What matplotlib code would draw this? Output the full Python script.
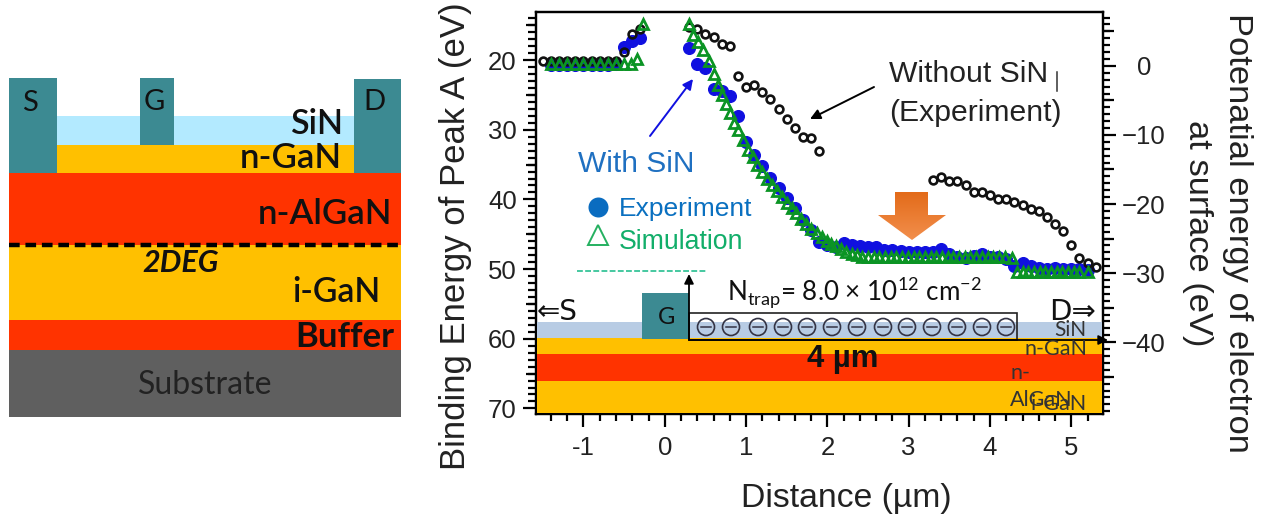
import numpy as np
import matplotlib
matplotlib.use("Agg")
import matplotlib.pyplot as plt
from matplotlib.patches import Rectangle, Polygon, Circle
from matplotlib.ticker import MultipleLocator, FixedLocator

# ---------- data (Distance in um, Binding energy in eV) ----------
black_x = [-1.5,-1.4,-1.3,-1.2,-1.1,-1.0,-0.9,-0.8,-0.7,-0.6,-0.5,-0.4,-0.3,
           0.3,0.4,0.5,0.6,0.7,0.8,0.9,1.0,1.1,1.2,1.3,1.4,1.5,1.6,1.7,1.8,1.9,
           3.3,3.4,3.5,3.6,3.7,3.8,3.9,4.0,4.1,4.2,4.3,4.4,4.5,4.6,4.7,4.8,4.9,5.0,5.1,5.2,5.3]
black_y = [20.1,20.1,20.1,20.1,20.1,20.1,20.1,20.1,20.1,20.1,18.8,16.3,15.6,
           15.3,15.6,16.2,16.7,17.7,18.0,22.3,23.8,23.6,24.6,25.6,27.0,28.5,29.7,31.0,31.2,33.0,
           37.2,36.8,37.4,37.4,38.0,39.0,39.0,39.4,39.9,40.0,40.4,40.8,41.4,41.6,42.5,43.5,44.5,46.5,48.4,49.1,49.7]
blue_x = [-1.4,-1.3,-1.2,-1.1,-1.0,-0.9,-0.8,-0.7,-0.6,-0.5,-0.4,-0.3,
          0.3,0.4,0.5,0.6,0.7,0.8,0.9,1.0,1.1,1.2,1.3,1.4,1.5,1.6,1.7,1.8,1.9,2.0,2.1,2.2,
          2.3,2.4,2.5,2.6,2.7,2.8,2.9,3.0,3.1,3.2,3.3,3.4,3.5,3.6,3.7,3.8,3.9,4.0,4.1,4.2,
          4.3,4.4,4.5,4.6,4.7,4.8,4.9,5.0,5.1,5.2]
blue_y = [20.7,20.7,20.7,20.7,20.7,20.7,20.7,20.7,20.6,18.1,17.2,16.8,
          18.3,20.6,21.2,24.2,24.5,25.2,28.0,31.8,33.6,35.2,36.9,38.3,39.8,41.2,42.9,44.4,46.1,46.5,46.9,46.2,
          46.5,46.7,46.8,46.8,47.2,47.3,47.4,47.5,47.6,47.6,47.6,47.1,47.9,48.2,48.4,48.1,47.9,48.2,48.3,48.5,
          49.6,49.1,49.5,49.8,50.0,49.8,50.0,50.0,50.0,50.1]
green_x = [-1.4,-1.3,-1.2,-1.1,-1.0,-0.9,-0.8,-0.7,-0.6,-0.5,-0.42,-0.34,-0.27,
           0.30,0.35,0.41,0.47,0.55,0.60,0.65,0.70,0.75,0.80,0.85,0.90,0.96,1.02,1.09,1.14,1.20,1.26,1.32,
           1.38,1.44,1.50,1.56,1.62,1.68,1.74,1.80,1.87,1.93,1.99,2.05,2.11,2.17,2.23,2.30,2.36,
           2.43,2.50,2.57,2.64,2.71,2.78,2.85,2.92,2.99,3.06,3.13,3.20,3.27,3.34,3.41,3.48,3.55,3.62,
           3.69,3.76,3.83,3.90,3.97,4.04,4.11,4.18,4.27,
           4.33,4.40,4.47,4.54,4.61,4.68,4.75,4.82,4.89,4.96,5.03,5.10,5.20]
green_y = [20.6,20.6,20.6,20.6,20.6,20.6,20.6,20.6,20.6,20.6,20.5,19.9,14.8,
           14.8,16.4,17.4,18.6,20.2,22.0,23.6,25.0,26.3,27.6,29.0,30.0,31.5,32.9,33.9,35.0,36.0,37.1,37.9,
           38.8,39.7,40.5,41.2,42.0,42.8,43.5,44.3,44.8,45.4,45.9,46.4,46.7,47.1,47.5,47.8,48.0,
           48.2,48.3,48.3,48.3,48.3,48.3,48.3,48.3,48.3,48.3,48.3,48.3,48.3,48.3,48.3,48.3,48.3,48.3,
           48.3,48.3,48.3,48.3,48.3,48.3,48.3,48.3,48.4,
           50.4,50.4,50.4,50.4,50.4,50.4,50.4,50.4,50.4,50.4,50.4,50.4,50.4]
left_major = [20,30,40,50,60,70]
right_major = [0,-10,-20,-30,-40]
x_major = [-1,0,1,2,3,4,5]
x_labels = ['-1','0','1','2','3','4','5']

W, H = 1275, 525
plt.rcParams['font.family'] = ['Liberation Sans', 'DejaVu Sans']
fig = plt.figure(figsize=(W/100, H/100), dpi=100)

# axes box in pixels
L, R, T, B = 535.5, 1103, 12, 414
ax = fig.add_axes([L/W, 1-B/H, (R-L)/W, (B-T)/H])
ax.set_xlim(-1.59, 5.39)
ax.set_ylim(70.8, 13.1)
for s in ax.spines.values():
    s.set_linewidth(1.6)
ax.xaxis.set_major_locator(FixedLocator(x_major))
ax.set_xticklabels(x_labels)
ax.xaxis.set_minor_locator(MultipleLocator(0.2))
ax.yaxis.set_major_locator(FixedLocator(left_major))
ax.yaxis.set_minor_locator(MultipleLocator(1))
ax.tick_params(axis='both', which='major', length=9.5, width=1.6, labelsize=18.5, direction='out', labelcolor='#222222')
ax.tick_params(axis='x', which='major', pad=6)
ax.tick_params(axis='y', which='major', pad=4)
ax.tick_params(axis='x', which='minor', length=4.7, width=1.6)
ax.tick_params(axis='y', which='minor', length=5.5, width=1.6)

ax.plot(blue_x, blue_y, 'o', ms=8.4, color='#1010E0', mec='#1010E0', zorder=3, clip_on=False)
ax.plot(black_x, black_y, 'o', ms=5.6, mfc='none', mec='#111111', mew=1.9, zorder=4, clip_on=False)
ax.plot(green_x, green_y, '^', ms=7.2, mfc='none', mec='#0B9424', mew=2.0, zorder=5, clip_on=False)

# medium 5 eV ticks on left
for v in range(15, 70, 10):
    ax.plot([-10/(R-L), 0], [v, v], transform=ax.get_yaxis_transform(), color='k', lw=1.6, clip_on=False, solid_capstyle='butt')

ax2 = ax.twinx()
ax2.set_ylim(-50.4, 7.8)
ax2.yaxis.set_major_locator(FixedLocator(right_major))
ax2.yaxis.set_minor_locator(MultipleLocator(1))
ax2.tick_params(axis='y', which='major', length=9.5, width=1.6, labelsize=18.5, pad=20, labelcolor='#222222')
ax2.tick_params(axis='y', which='minor', length=4.8, width=1.6)
for lab in ax2.get_yticklabels():
    lab.set_ha('center')
for s in ax2.spines.values():
    s.set_linewidth(1.6)
for v in range(5, -50, -10):
    ax2.plot([1, 1+10.7/(R-L)], [v, v], transform=ax2.get_yaxis_transform(), color='k', lw=1.6, clip_on=False, solid_capstyle='butt')

# overlay in pixel coordinates
ov = fig.add_axes([0, 0, 1, 1], facecolor='none')
ov.set_xlim(0, W); ov.set_ylim(H, 0); ov.axis('off')

def rect(x0, y0, x1, y1, c, **k):
    ov.add_patch(Rectangle((x0, y0), x1-x0, y1-y0, fc=c, ec=k.pop('ec', 'none'), **k))
def txt(x, y, s, size, color='#111111', ha='left', va='center', **k):
    ov.text(x, y, s, fontsize=size, color=color, ha=ha, va=va, **k)

TEAL, AMBER, RED = '#3C8A92', '#FFC000', '#FF3300'
# left schematic
rect(9, 350, 401, 417, '#5F5F5F')
rect(9, 320, 401, 350, RED)
rect(9, 245, 401, 320, AMBER)
rect(9, 173, 401, 245, RED)
rect(57, 145, 354, 173, AMBER)
rect(57, 116, 354, 145, '#B3EAFF')
rect(9, 78, 57, 173, TEAL)
rect(140, 78, 174, 145, TEAL)
rect(354, 79, 401, 173, TEAL)
ov.plot([9, 401], [245, 245], color='k', lw=3.2, ls=(0, (2.4, 1.3)))
cal = ['Lato', 'DejaVu Sans']
txt(30, 103, 'S', 21, ha='center', family=cal)
txt(154, 102, 'G', 21, ha='center', family=cal)
txt(374, 102, 'D', 21, ha='center', family=cal)
txt(343, 124, 'SiN', 24.5, ha='right', weight='semibold', family=cal)
txt(342, 158, 'n-GaN', 25, ha='right', weight='semibold', family=cal)
txt(392, 214, 'n-AlGaN', 25, ha='right', weight='semibold', family=cal)
txt(181, 263, '2DEG', 22, ha='center', weight='bold', style='italic', family=cal)
txt(380, 292, 'i-GaN', 24.3, ha='right', weight='semibold', family=cal)
txt(394, 337, 'Buffer', 25, ha='right', weight='bold', family=cal)
txt(205, 385, 'Substrate', 23, ha='center', color='#222222', family=cal)

# device strip in the plot
rect(536.5, 322, 1102, 338, '#B8CCE4')
rect(536.5, 338, 1102, 354, AMBER)
rect(536.5, 354, 1102, 381, RED)
rect(536.5, 381, 1102, 413, AMBER)
rect(642, 293, 689, 339, TEAL)
txt(667, 317, 'G', 17, ha='center', family=cal)
ov.add_patch(Rectangle((689, 313), 328, 27, fc='none', ec='#222222', lw=1.2))
for cx in [706,731,758,783,807,832,857,883,907,932,957,982,1006]:
    ov.add_patch(Circle((cx, 327), 8.5, fc='none', ec='#333344', lw=1.2))
    ov.plot([cx-5, cx+5], [327, 327], color='#333344', lw=1.1)
ov.annotate('', xy=(689, 274), xytext=(689, 340), arrowprops=dict(arrowstyle='-|>', color='k', lw=1.3, mutation_scale=14, shrinkA=0, shrinkB=0))
ov.annotate('', xy=(1108, 340), xytext=(689, 340), arrowprops=dict(arrowstyle='-|>', color='k', lw=1.3, mutation_scale=14, shrinkA=0, shrinkB=0))
txt(537, 312, '⇐S', 20, family=['DejaVu Sans'])
txt(1049, 312, 'D⇒', 21, family=['DejaVu Sans'])
txt(727, 292, r'N$_{\mathregular{trap}}$= 8.0 × 10$^{\mathregular{12}}$ cm$^{\mathregular{-2}}$', 18.7, family=cal)
txt(843, 359, '4 µm', 22.4, ha='center', weight='bold', color='#111111')
txt(1086, 330, 'SiN', 15, ha='right', color='#333333', family=cal)
txt(1087, 349, 'n-GaN', 15.5, ha='right', color='#333333', family=cal)
txt(1010, 373, 'n-', 15.5, color='#333333', family=cal)
txt(1010, 400, 'AlGaN', 15.5, color='#333333', family=cal)
txt(1087, 404, 'i-GaN', 15.5, ha='right', color='#333333', family=cal)
# annotations
txt(889, 74, 'Without SiN', 21.7, color='#222222')
txt(889, 113, '(Experiment)', 21.7, color='#222222')
ov.plot([1057, 1057], [72, 91], color='#333333', lw=1.1)
ov.annotate('', xy=(810, 119), xytext=(874, 87), arrowprops=dict(arrowstyle='-|>', color='k', lw=1.4, mutation_scale=15, shrinkA=0, shrinkB=0))
ov.annotate('', xy=(693, 79), xytext=(650, 136), arrowprops=dict(arrowstyle='-|>', color='#1010E0', lw=1.4, mutation_scale=15, shrinkA=0, shrinkB=0))
txt(578, 164, 'With SiN', 21.5, color='#1F70C1')
txt(619, 209, 'Experiment', 19, color='#0A70C0')
txt(619, 242, 'Simulation', 19.2, color='#12AE6A')
ov.plot([598], [207], 'o', ms=14.4, color='#0A6CC0', mec='none')
ov.plot([598], [235], '^', ms=15, mfc='none', mec='#25B060', mew=1.4)
ov.plot([577, 706], [271, 271], color='#45C8A0', lw=1.4, ls=(0, (3, 1.2)))
# orange block arrow with gradient
poly = Polygon([(895,192),(928,192),(928,215),(946,215),(912,240),(878,215),(895,215)], closed=True, fc='none', ec='none')
ov.add_patch(poly)
grad = np.linspace(0, 1, 64).reshape(-1, 1, 1) * (np.array([0.95,0.56,0.30]) - np.array([0.89,0.42,0.10])) + np.array([0.89,0.42,0.10])
im = ov.imshow(grad, extent=(878, 946, 240, 192), aspect='auto', interpolation='bilinear')
im.set_clip_path(poly)
ov.set_xlim(0, W); ov.set_ylim(H, 0)

# axis titles
fig.text(846/W, 1-499/H, 'Distance (µm)', fontsize=24.3, color='#222222', ha='center', va='center')
fig.text(456/W, 1-236/H, 'Binding Energy of Peak A (eV)', rotation=90, fontsize=25, color='#222222', ha='center', va='center')
fig.text(1237/W, 1-233/H, 'Potenatial energy of electron', rotation=270, fontsize=24.8, color='#222222', ha='center', va='center')
fig.text(1198/W, 1-233/H, 'at surface (eV)', rotation=270, fontsize=24.8, color='#222222', ha='center', va='center')

fig.savefig('out.png', dpi=100)
